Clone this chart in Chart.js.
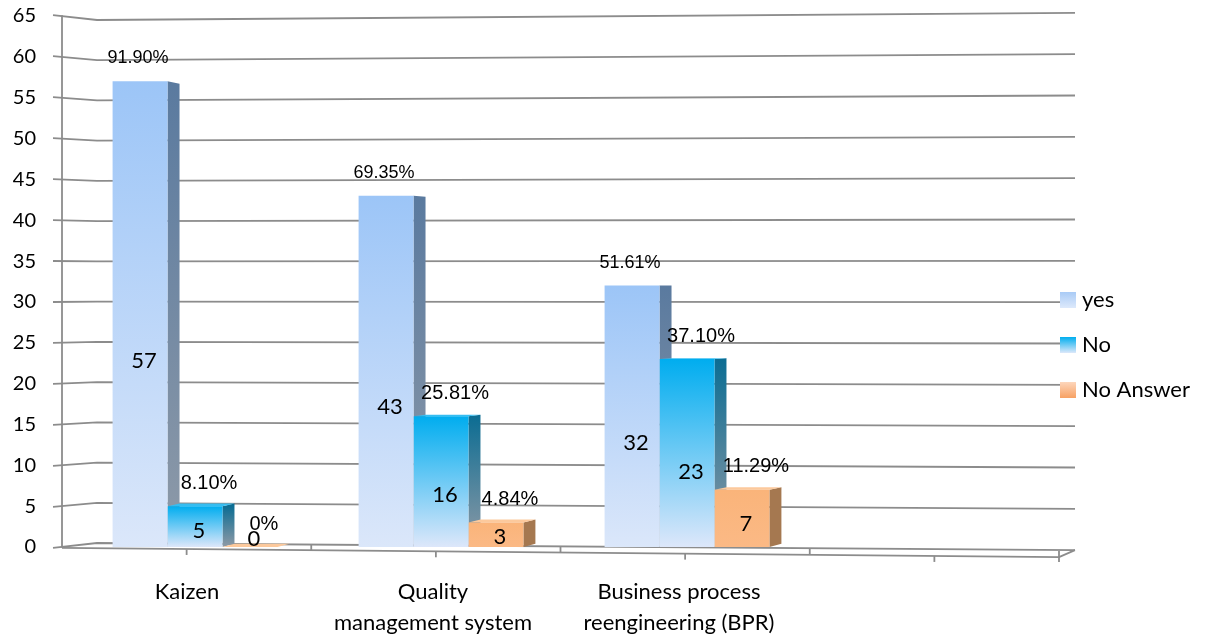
<!DOCTYPE html>
<html>
<head>
<meta charset="utf-8">
<title>Tools in use</title>
<script src="https://cdn.jsdelivr.net/npm/chart.js@4.4.0/dist/chart.umd.min.js"></script>
<style>
    html, body { margin: 0; padding: 0; background: #fff; }
    canvas { display: block; }
</style>
</head>
<body>
<canvas id="chart-canvas" width="1209" height="642"></canvas>
<script>
const categories = ['Kaizen', ['Quality', 'management system'], ['Business process', 'reengineering (BPR)'], ''];
const seriesNames = ['yes', 'No', 'No Answer'];
const yesCounts = [57, 43, 32, null];
const noCounts = [5, 16, 23, null];
const noAnswerCounts = [0, 3, 7, null];
const yesPercent = ['91.90%', '69.35%', '51.61%', ''];
const noPercent = ['8.10%', '25.81%', '37.10%', ''];
const noAnswerPercent = ['0%', '4.84%', '11.29%', ''];
const yMin = 0;
const yMax = 65;
const yStep = 5;

const LABEL_FONT = 'Lato, "Open Sans", sans-serif';
const PCT_FONT = '"Liberation Sans", Arial, sans-serif';
const GRID_COLOR = '#8c8c8c';
const DEPTH = 12;

// front / side / top colours per series
const FACES = [
    { front: ['#9cc5f7', '#dbe7fa'], side: ['#5a7a9f', '#8e9aa8'], top: '#b8d4f8', swatch: ['#a9cbf6', '#dde9fb'] },
    { front: ['#00adef', '#dde7fa'], side: ['#0c6d93', '#8f9aa6'], top: '#35bdf1', swatch: ['#00aeef', '#dde8fa'] },
    { front: ['#fab47a', '#fbb985'], side: ['#a57850', '#a57850'], top: '#fcc99c', swatch: ['#fdd6bb', '#f7a163'] },
];
const percents = [yesPercent, noPercent, noAnswerPercent];

function barGradient(index) {
    return function (context) {
        const chart = context.chart;
        const yScale = chart.scales.y;
        if (!chart.chartArea || !yScale || context.raw == null) {
            return FACES[index].front[0];
        }
        const top = yScale.getPixelForValue(context.raw);
        const base = yScale.getPixelForValue(0);
        const g = chart.ctx.createLinearGradient(0, top, 0, Math.max(base, top + 1));
        g.addColorStop(0, FACES[index].front[0]);
        g.addColorStop(1, FACES[index].front[1]);
        return g;
    };
}

// perspective helper: shifts a pixel row away from the vertical centre
function rowAt(chart, value, k) {
    const area = chart.chartArea;
    const cy = (area.top + area.bottom) / 2;
    return cy + (chart.scales.y.getPixelForValue(value) - cy) * k;
}

const wallPlugin = {
    id: 'wall',
    beforeDatasetsDraw(chart) {
        const ctx = chart.ctx;
        const area = chart.chartArea;
        const backL = area.left + 25, backR = area.right + 19;
        const frontL = area.left - 10, frontR = area.right + 3;
        const kBL = 0.985, kBR = 1.012, kFL = 1.003, kFR = 1.038;

        ctx.save();
        ctx.strokeStyle = GRID_COLOR;
        ctx.lineWidth = 1.8;
        ctx.lineJoin = 'round';

        for (let v = yMin; v <= yMax; v += yStep) {
            ctx.beginPath();
            ctx.moveTo(frontL - 9, rowAt(chart, v, kFL));
            ctx.lineTo(backL, rowAt(chart, v, kBL));
            ctx.lineTo(backR, rowAt(chart, v, kBR));
            ctx.stroke();
        }

        // floor
        ctx.beginPath();
        ctx.moveTo(frontL, rowAt(chart, 0, kFL));
        ctx.lineTo(frontR, rowAt(chart, 0, kFR));
        ctx.lineTo(backR, rowAt(chart, 0, kBR));
        ctx.stroke();

        // value axis
        ctx.beginPath();
        ctx.moveTo(frontL, rowAt(chart, yMax, kFL));
        ctx.lineTo(frontL, rowAt(chart, 0, kFL));
        ctx.stroke();

        // category ticks along the front edge
        const steps = categories.length * 2;
        for (let i = 1; i <= steps; i++) {
            const t = i / steps;
            const x = frontL + (frontR - frontL) * t;
            const y = rowAt(chart, 0, kFL + (kFR - kFL) * t);
            ctx.beginPath();
            if (i % 2 === 0) {
                ctx.moveTo(x, y - 6);
                ctx.lineTo(x, y + (i === steps ? 5 : 0));
            } else {
                ctx.moveTo(x, y);
                ctx.lineTo(x, y + 6);
            }
            ctx.stroke();
        }
        ctx.restore();

        // side and top faces, painted before the fronts so the next bar covers them
        const cy = (area.top + area.bottom) / 2;
        chart.data.datasets.forEach((ds, di) => {
            const meta = chart.getDatasetMeta(di);
            meta.data.forEach((bar, i) => {
                if (ds.data[i] == null) return;
                const right = bar.x + bar.width / 2;
                const left = bar.x - bar.width / 2;
                const top = bar.y, base = bar.base;
                const tTop = -(top - cy) * 0.012;
                const tBase = -(base - cy) * 0.012;

                const g = ctx.createLinearGradient(0, top, 0, base);
                g.addColorStop(0, FACES[di].side[0]);
                g.addColorStop(1, FACES[di].side[1]);
                ctx.fillStyle = g;
                ctx.beginPath();
                ctx.moveTo(right, top);
                ctx.lineTo(right + DEPTH, top + tTop);
                ctx.lineTo(right + DEPTH, base + tBase);
                ctx.lineTo(right, base);
                ctx.closePath();
                ctx.fill();

                if (tTop < 0) {
                    ctx.fillStyle = FACES[di].top;
                    ctx.beginPath();
                    ctx.moveTo(left, top);
                    ctx.lineTo(left + DEPTH, top + tTop);
                    ctx.lineTo(right + DEPTH, top + tTop);
                    ctx.lineTo(right, top);
                    ctx.closePath();
                    ctx.fill();
                }
            });
        });
    },
    afterDatasetsDraw(chart) {
        const ctx = chart.ctx;
        ctx.save();
        ctx.fillStyle = '#000';
        ctx.textAlign = 'center';
        ctx.textBaseline = 'middle';
        chart.data.datasets.forEach((ds, di) => {
            const meta = chart.getDatasetMeta(di);
            meta.data.forEach((bar, i) => {
                const value = ds.data[i];
                if (value == null) return;
                const h = bar.base - bar.y;
                ctx.font = '22px ' + LABEL_FONT;
                ctx.fillText(String(value), bar.x + 4, bar.base - Math.max(h * 0.4, 8));

                const pct = percents[di][i];
                if (pct) {
                    ctx.font = (di === 0 ? '18px ' : '20px ') + PCT_FONT;
                    ctx.fillText(pct, bar.x + (di === 0 ? -2 : 14), bar.y - 23);
                }
            });
        });
        ctx.restore();
    },
    afterDraw(chart) {
        const ctx = chart.ctx;
        ctx.save();
        ctx.font = '22px ' + LABEL_FONT;
        ctx.textBaseline = 'middle';
        ctx.fillStyle = '#000';
        seriesNames.forEach((name, i) => {
            const cy = 300 + i * 45;
            const g = ctx.createLinearGradient(0, cy - 8, 0, cy + 8);
            g.addColorStop(0, FACES[i].swatch[0]);
            g.addColorStop(1, FACES[i].swatch[1]);
            ctx.fillStyle = g;
            ctx.fillRect(1060, cy - 8, 16, 16);
            ctx.fillStyle = '#000';
            ctx.fillText(name, 1082, cy);
        });
        ctx.restore();
    }
};

function noScalePadding(scale) {
    scale.paddingTop = 0;
    scale.paddingBottom = 0;
}

document.addEventListener('DOMContentLoaded', function () {
    const canvas = document.getElementById('chart-canvas').getContext('2d');
    const series = [yesCounts, noCounts, noAnswerCounts];

    new Chart(canvas, {
        type: 'bar',
        data: {
            labels: categories,
            datasets: series.map((values, i) => ({
                label: seriesNames[i],
                data: values,
                backgroundColor: barGradient(i),
                borderWidth: 0,
                categoryPercentage: 0.67,
                barPercentage: 1.0,
            })),
        },
        options: {
            responsive: false,
            animation: false,
            layout: {
                padding: { top: 16, right: 153, bottom: 0, left: 0 }
            },
            plugins: {
                legend: { display: false },
                tooltip: { enabled: false },
            },
            scales: {
                x: {
                    grid: { display: false, drawTicks: false },
                    border: { display: false },
                    ticks: {
                        color: '#000',
                        font: { family: LABEL_FONT, size: 22, lineHeight: 1.4 },
                        padding: 30,
                        labelOffset: -8,
                        maxRotation: 0,
                        autoSkip: false,
                    },
                    afterFit: (scale) => { scale.height = 95; noScalePadding(scale); },
                },
                y: {
                    min: yMin,
                    max: yMax,
                    grid: { display: false, drawTicks: false },
                    border: { display: false },
                    ticks: {
                        stepSize: yStep,
                        color: '#000',
                        font: { family: LABEL_FONT, size: 20 },
                        padding: 36,
                    },
                    afterFit: (scale) => { scale.width = 72; noScalePadding(scale); },
                },
            },
        },
        plugins: [wallPlugin],
    });
});
</script>
</body>
</html>
